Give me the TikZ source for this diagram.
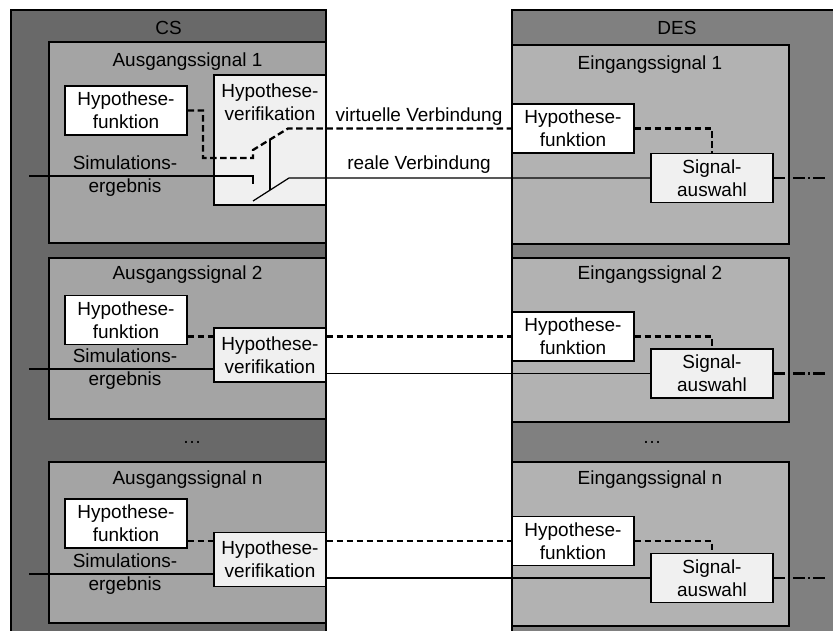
\documentclass[tikz,border=0pt]{standalone}
\usepackage{fontspec}
\setmainfont{Liberation Sans}
\usepackage{xcolor}
\usepackage{tikz}
\usetikzlibrary{positioning}
\definecolor{csgray}{RGB}{105, 105, 105}
\definecolor{desgray}{RGB}{128, 128, 128}
\definecolor{cslight}{RGB}{164, 164, 164}
\definecolor{deslight}{RGB}{178, 178, 178}
\definecolor{boxgray}{RGB}{240, 240, 240}

\begin{document}
\begin{tikzpicture}[
    font=\fontsize{10.8}{12.9}\selectfont,
    panel/.style={rectangle, draw=black, line width=0.6pt, inner sep=0pt},
    sigbox/.style={rectangle, draw=black, line width=0.6pt, minimum width=5.54cm, inner sep=0pt},
    funcbox/.style={rectangle, draw=black, line width=0.6pt, minimum width=2.44cm, minimum height=0.98cm, align=center, fill=white, inner sep=1pt},
    verbox/.style={rectangle, draw=black, line width=0.6pt, minimum width=2.24cm, minimum height=1.08cm, align=center, fill=boxgray, inner sep=1pt},
    selbox/.style={funcbox, fill=boxgray},
    realline/.style={line width=0.7pt},
    virtline/.style={line width=1.3pt, dash pattern=on 3.7pt off 2pt},
    selout/.style={line width=1.3pt, dash pattern=on 6.8pt off 1.7pt on 1.1pt off 1.7pt}
]
    \useasboundingbox (0,0) rectangle (16.66,12.6);
    \clip (0,0) rectangle (16.66,12.6);

    % CS side
    \node[panel, fill=csgray, minimum width=6.3cm, minimum height=12.7cm] (cs) at (3.37,6.05) {};
    \node (cstitle) at (3.37,12.04) {CS};

    \node[sigbox, fill=cslight, minimum height=4.02cm] (aus1) at (3.75,9.75) {};
    \node (aus1title) at (3.75,11.36) {Ausgangssignal 1};
    \node[funcbox] (hf1) at (2.52,10.39) {Hypothese-\\funktion};
    \node[verbox, minimum height=2.6cm] (hv1) at (5.4,9.8) {};
    \node[below=0.07cm of hv1.north, align=center] (hv1text) {Hypothese-\\verifikation};

    \node[sigbox, fill=cslight, minimum height=3.22cm] (aus2) at (3.75,5.83) {};
    \node (aus2title) at (3.75,7.1) {Ausgangssignal 2};
    \node[funcbox] (hf2) at (2.52,6.2) {Hypothese-\\funktion};
    \node[verbox] (hv2) at (5.4,5.5) {Hypothese-\\verifikation};

    \node (csdots) at (3.84,3.76) {\ldots};

    \node[sigbox, fill=cslight, minimum height=3.22cm] (ausn) at (3.75,1.75) {};
    \node (ausntitle) at (3.75,3.0) {Ausgangssignal n};
    \node[funcbox] (hfn) at (2.52,2.13) {Hypothese-\\funktion};
    \node[verbox] (hvn) at (5.4,1.41) {Hypothese-\\verifikation};

    % DES side
    \node[panel, fill=desgray, minimum width=6.76cm, minimum height=12.7cm] (des) at (13.62,6.05) {};
    \node (destitle) at (13.54,12.04) {DES};

    \node[sigbox, fill=deslight, minimum height=3.98cm] (ein1) at (13.01,9.71) {};
    \node (ein1title) at (13.0,11.3) {Eingangssignal 1};
    \node[funcbox] (df1) at (11.46,10.03) {Hypothese-\\funktion};
    \node[selbox] (ds1) at (14.24,9.04) {Signal-\\auswahl};

    \node[sigbox, fill=deslight, minimum height=3.28cm] (ein2) at (13.01,5.8) {};
    \node (ein2title) at (13.0,7.1) {Eingangssignal 2};
    \node[funcbox] (df2) at (11.46,5.87) {Hypothese-\\funktion};
    \node[selbox] (ds2) at (14.24,5.13) {Signal-\\auswahl};

    \node (desdots) at (13.04,3.76) {\ldots};

    \node[sigbox, fill=deslight, minimum height=3.28cm] (einn) at (13.01,1.72) {};
    \node (einntitle) at (13.0,3.0) {Eingangssignal n};
    \node[funcbox] (dfn) at (11.46,1.78) {Hypothese-\\funktion};
    \node[selbox] (dsn) at (14.24,1.04) {Signal-\\auswahl};

    % Simulation inputs
    \coordinate (sim1in) at (0.58,9.08);
    \coordinate (sim2in) at (0.58,5.22);
    \coordinate (simnin) at (0.58,1.12);

    % Outputs
    \coordinate (out1) at (16.56,9.04);
    \coordinate (out2) at (16.56,5.13);
    \coordinate (outn) at (16.56,1.04);

    % Signal 1 with switch
    \draw[virtline] (hf1.east) -| (4.06,9.44) -- (5.06,9.44) -- (5.06,9.6) -- (5.76,10.03) -- (df1.west);
    \draw[realline] (sim1in) -- (5.06,9.08) -- (5.06,8.92);
    \draw[realline] (5.06,8.58) -- (5.78,9.04) -- (ds1.west);
    \draw[realline] (5.4,9.81) -- (5.4,8.8);
    \node[align=center] (sim1) at (2.5,9.08) {Simulations-\\ergebnis};
    \node (virtlabel) at (8.38,10.26) {virtuelle Verbindung};
    \node (reallabel) at (8.38,9.3) {reale Verbindung};

    % Signal 2
    \draw[virtline] (hf2.east |- df2.west) -- (hv2.west |- df2.west);
    \draw[virtline] (hv2.east |- df2.west) -- (df2.west);
    \draw[realline] (sim2in) -- (hv2.west |- sim2in);
    \draw[realline] (hv2.east |- ds2.west) -- (ds2.west);
    \node[align=center] (sim2) at (2.5,5.22) {Simulations-\\ergebnis};

    % Signal n
    \draw[virtline] (hfn.east |- dfn.west) -- (hvn.west |- dfn.west);
    \draw[virtline] (hvn.east |- dfn.west) -- (dfn.west);
    \draw[realline] (simnin) -- (hvn.west |- simnin);
    \draw[realline] (hvn.east |- dsn.west) -- (dsn.west);
    \node[align=center] (simn) at (2.5,1.12) {Simulations-\\ergebnis};

    % DES internal
    \draw[virtline] (df1.east) -| (ds1.north);
    \draw[virtline] (df2.east) -| (ds2.north);
    \draw[virtline] (dfn.east) -| (dsn.north);
    \draw[selout] (ds1.east) -- (out1);
    \draw[selout] (ds2.east) -- (out2);
    \draw[selout] (dsn.east) -- (outn);

\end{tikzpicture}
\end{document}
